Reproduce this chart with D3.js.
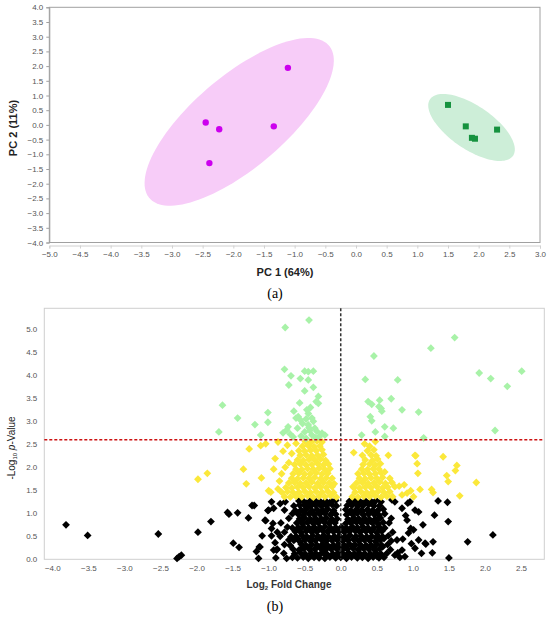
<!DOCTYPE html>
<html>
<head>
<meta charset="utf-8">
<script src="https://cdn.jsdelivr.net/npm/d3@7"></script>
<style>
  body { margin: 0; background: #fff; }
  svg { display: block; font-family: "Liberation Sans", Arial, sans-serif; }
  .tick text { fill: #555; font-size: 8px; }
</style>
</head>
<body>
<script>
// ---- panel (a): PCA scores ----
const pcaGroupA = [[-2.45, 0.08], [-2.23, -0.15], [-2.39, -1.30], [-1.34, -0.05], [-1.11, 1.94]];
const pcaGroupB = [[1.50, 0.68], [1.79, -0.05], [2.30, -0.16], [1.89, -0.44], [1.94, -0.47]];
const pcaXTicks = [-5, -4.5, -4, -3.5, -3, -2.5, -2, -1.5, -1, -0.5, 0, 0.5, 1, 1.5, 2, 2.5, 3];
const pcaYTicks = [-4, -3.5, -3, -2.5, -2, -1.5, -1, -0.5, 0, 0.5, 1, 1.5, 2, 2.5, 3, 3.5, 4];

// ---- panel (b): volcano (log2 FC, -log10 p) ----
const greenPoints = [
  [-1.69,2.77],[-1.64,3.35],[-1.43,3.07],[-1.19,2.93],[-1.11,2.70],[-1.01,3.19],[-1.01,2.98],
  [-0.77,5.04],[-0.44,5.20],[1.58,4.82],[1.25,4.59],[0.46,4.42],
  [-0.78,4.13],[-0.50,4.09],[-0.45,4.08],[-0.38,4.09],[-0.69,3.99],[-0.56,3.93],[-0.45,3.90],[-0.72,3.79],
  [0.34,3.91],[0.79,3.90],[1.92,4.05],[2.08,3.93],[2.31,3.76],[2.51,4.09],[2.14,2.80],[1.15,2.64],
  [-0.38,3.74],[-0.50,3.66],[-0.31,3.54],[-0.34,3.43],[-0.31,3.39],[-0.57,3.40],[-0.65,3.22],[-0.45,3.17],
  [-0.59,3.10],[-0.62,3.07],[-0.56,3.03],[-0.40,3.07],[-0.73,2.88],[-0.75,2.81],[-0.45,2.92],[-0.36,2.85],
  [-0.50,2.77],[-0.26,2.74],[-0.22,2.70],[-0.40,2.70],[-0.80,2.75],
  [-0.70,2.72],[-0.66,2.66],[-0.55,2.68],[-0.48,2.63],[-0.35,2.64],[-0.30,2.66],[-0.60,2.85],[-0.53,2.95],[-0.43,2.80],
  [-0.47,3.25],[-0.42,3.30],[-0.48,3.05],[-0.38,3.00],[-0.44,2.86],[-0.33,2.78],
  [0.54,3.46],[0.70,3.49],[0.38,3.43],[0.43,3.37],[0.56,3.28],[0.53,3.32],[0.85,3.25],[1.08,3.20],
  [0.41,3.10],[0.43,3.01],[0.61,2.88],[0.73,2.85],[0.48,2.77],[0.29,2.70],[0.61,2.67],[0.57,3.22]
];
const yellowPoints = [
  [-1.98,1.74],[-1.85,1.87],[-1.35,1.96],[-1.31,1.64],[-1.27,2.40],[-1.11,2.47],[-1.04,2.51],[-1.10,1.77],
  [-1.00,1.49],[-0.97,1.46],[-0.93,1.96],[-0.91,2.19],[-0.87,2.55],[-0.87,1.53],
  [-0.78,1.36],[-0.70,1.35],[-0.62,1.37],[-0.54,1.36],[-0.46,1.38],[-0.38,1.35],[-0.30,1.37],[-0.22,1.36],[-0.14,1.38],[-0.06,1.35],
  [-0.82,1.46],[-0.74,1.47],[-0.66,1.45],[-0.58,1.46],[-0.50,1.48],[-0.42,1.45],[-0.34,1.47],[-0.26,1.46],[-0.18,1.48],[-0.10,1.45],
  [-0.76,1.56],[-0.68,1.55],[-0.60,1.57],[-0.52,1.56],[-0.44,1.58],[-0.36,1.55],[-0.28,1.57],[-0.20,1.56],[-0.12,1.58],
  [-0.72,1.66],[-0.64,1.67],[-0.56,1.65],[-0.48,1.66],[-0.40,1.68],[-0.32,1.65],[-0.24,1.67],[-0.16,1.66],[-0.09,1.64],
  [-0.68,1.76],[-0.60,1.75],[-0.52,1.77],[-0.44,1.76],[-0.36,1.78],[-0.28,1.75],[-0.20,1.77],[-0.12,1.76],
  [-0.66,1.86],[-0.58,1.87],[-0.50,1.85],[-0.42,1.86],[-0.34,1.88],[-0.26,1.85],[-0.18,1.87],
  [-0.62,1.96],[-0.54,1.95],[-0.46,1.97],[-0.38,1.96],[-0.30,1.98],[-0.22,1.95],[-0.15,1.97],
  [-0.64,2.06],[-0.56,2.07],[-0.48,2.05],[-0.40,2.06],[-0.32,2.08],[-0.24,2.05],[-0.17,2.07],
  [-0.60,2.16],[-0.52,2.15],[-0.44,2.17],[-0.36,2.16],[-0.28,2.18],[-0.21,2.15],
  [-0.56,2.26],[-0.48,2.27],[-0.40,2.25],[-0.32,2.26],[-0.24,2.28],
  [-0.58,2.36],[-0.50,2.35],[-0.42,2.37],[-0.34,2.36],[-0.26,2.38],
  [-0.53,2.46],[-0.45,2.47],[-0.37,2.45],[-0.29,2.46],
  [-0.49,2.56],[-0.41,2.55],[-0.33,2.57],[-0.26,2.55],
  [-0.80,2.35],[-0.74,2.48],[-0.72,2.10],[-0.82,1.86],[-0.77,2.00],[-0.85,1.70],[-0.68,2.30],[-0.62,2.52],
  [0.16,1.36],[0.24,1.35],[0.32,1.37],[0.40,1.36],[0.48,1.38],[0.56,1.35],[0.64,1.37],[0.72,1.36],
  [0.20,1.46],[0.28,1.47],[0.36,1.45],[0.44,1.46],[0.52,1.48],[0.60,1.45],[0.68,1.47],
  [0.18,1.56],[0.26,1.55],[0.34,1.57],[0.42,1.56],[0.50,1.58],[0.58,1.55],[0.65,1.57],
  [0.22,1.66],[0.30,1.67],[0.38,1.65],[0.46,1.66],[0.54,1.68],[0.62,1.65],
  [0.26,1.76],[0.34,1.75],[0.42,1.77],[0.50,1.76],[0.58,1.78],
  [0.24,1.86],[0.32,1.87],[0.40,1.85],[0.48,1.86],[0.56,1.88],
  [0.29,1.96],[0.37,1.95],[0.45,1.97],[0.53,1.96],
  [0.31,2.06],[0.40,2.07],[0.48,2.05],[0.55,2.08],
  [0.34,2.16],[0.44,2.15],[0.51,2.18],
  [0.30,2.26],[0.42,2.27],[0.49,2.25],[0.37,2.36],[0.46,2.38],[0.40,2.46],
  [0.18,2.32],[0.33,2.51],[0.48,2.56],[0.66,2.26],[1.04,2.25],[1.07,1.87],[1.42,2.23],[1.61,2.04],
  [1.59,1.93],[1.47,1.82],[1.49,1.69],[1.88,1.67],[1.65,1.38],[1.26,1.52],[1.28,1.45],[1.10,1.52],
  [0.97,1.49],[1.01,1.36],[0.88,1.62],[0.81,1.59],[0.75,1.58],[0.68,1.76],[0.71,1.67],[0.61,1.90],
  [0.17,1.58],[1.03,2.26],[1.06,2.08],[0.92,1.44],[0.85,1.40]
];
const blackPoints = [
  [-3.81,0.75],[-3.51,0.52],[-2.53,0.55],[-1.98,0.59],[-2.27,0.02],[-2.24,0.06],[-2.21,0.09],[-1.80,0.82],
  [-1.57,1.02],[-1.55,0.98],[-1.43,1.01],[-1.28,0.90],[-1.23,1.17],[-1.20,1.17],[-1.49,0.35],[-1.41,0.26],
  [-1.17,0.17],[-1.13,0.27],[-1.14,0.02],[-1.09,0.51],[-1.04,0.84],[-1.01,1.06],[-0.96,1.25],[-0.96,0.51],
  [-0.93,0.20],[-0.93,1.11],[-0.96,0.67],[-0.88,0.59],[-0.89,0.20],[-0.84,1.21],[-0.77,1.25],
  [-1.00,1.07],[-1.05,0.85],[-0.94,0.78],[-1.12,0.27],[-0.91,0.36],
  [0.96,1.25],[1.08,1.03],[1.35,1.27],[1.48,1.24],[1.49,0.82],[1.30,0.96],[1.28,0.38],[1.18,0.33],
  [1.76,0.38],[2.11,0.53],[1.50,0.03],[1.08,0.42],[0.97,0.67],[1.01,0.64],[0.94,0.57],[0.92,0.85],
  [0.85,1.11],[0.75,1.25],[0.71,1.29],[0.89,0.06],[0.75,0.09],[0.85,0.20],[1.12,0.13],[1.03,0.24],
  [0.98,0.34],[0.90,0.95],[1.14,0.75],[0.86,0.44],[1.03,1.07],[0.93,1.22],[1.17,0.35],[1.27,0.14],
  [-0.90,0.03],[-0.75,0.02],[-0.67,0.04],[-0.60,0.03],[-0.52,0.05],[-0.45,0.02],[-0.37,0.04],
  [-0.30,0.03],[-0.22,0.02],[-0.15,0.05],[-0.07,0.03],[0.00,0.04],[0.08,0.02],[0.15,0.05],[0.23,0.03],
  [0.30,0.04],[0.38,0.02],[0.45,0.05],[0.53,0.03],[0.60,0.04],[0.82,0.04],
  [-0.79,0.13],[-0.64,0.12],[-0.56,0.14],[-0.49,0.11],[-0.41,0.13],[-0.34,0.12],
  [-0.26,0.14],[-0.19,0.11],[-0.11,0.12],[-0.04,0.13],[0.04,0.11],[0.11,0.14],[0.19,0.12],[0.26,0.13],
  [0.34,0.11],[0.41,0.12],[0.49,0.14],[0.56,0.11],[0.64,0.13],[0.79,0.14],
  [-0.88,0.22],[-0.66,0.22],[-0.58,0.20],[-0.51,0.23],[-0.43,0.21],[-0.36,0.22],
  [-0.28,0.24],[-0.21,0.21],[-0.13,0.22],[-0.06,0.23],[0.02,0.21],[0.09,0.22],[0.17,0.24],[0.24,0.21],
  [0.32,0.23],[0.39,0.22],[0.47,0.20],[0.54,0.23],[0.69,0.21],
  [-0.78,0.32],[-0.70,0.30],[-0.55,0.33],[-0.48,0.30],[-0.40,0.32],[-0.33,0.31],
  [-0.25,0.33],[-0.18,0.30],[-0.10,0.31],[-0.03,0.32],[0.05,0.30],[0.12,0.33],[0.20,0.31],[0.27,0.32],
  [0.35,0.30],[0.42,0.31],[0.50,0.33],[0.57,0.30],[0.65,0.32],
  [-0.72,0.42],[-0.65,0.41],[-0.57,0.39],[-0.50,0.42],[-0.42,0.40],[-0.35,0.41],
  [-0.27,0.43],[-0.20,0.40],[-0.12,0.41],[-0.05,0.42],[0.03,0.40],[0.10,0.41],[0.18,0.43],[0.25,0.40],
  [0.33,0.42],[0.40,0.41],[0.48,0.39],[0.55,0.42],[0.70,0.40],[0.78,0.42],
  [-0.84,0.50],[-0.69,0.49],[-0.62,0.50],[-0.54,0.52],[-0.47,0.49],[-0.39,0.51],[-0.32,0.50],
  [-0.24,0.52],[-0.17,0.49],[-0.09,0.50],[-0.02,0.51],[0.06,0.49],[0.13,0.52],[0.21,0.50],[0.28,0.51],
  [0.36,0.49],[0.43,0.50],[0.51,0.52],[0.58,0.49],[0.66,0.51],
  [-0.78,0.59],[-0.63,0.60],[-0.55,0.58],[-0.48,0.61],[-0.40,0.59],[-0.33,0.60],
  [-0.25,0.62],[-0.18,0.59],[-0.10,0.60],[-0.03,0.61],[0.05,0.59],[0.12,0.60],[0.20,0.62],[0.27,0.59],
  [0.35,0.61],[0.42,0.60],[0.50,0.58],[0.57,0.61],[0.72,0.59],
  [-0.74,0.70],[-0.67,0.68],[-0.59,0.69],[-0.52,0.71],[-0.44,0.68],[-0.37,0.70],[-0.29,0.69],
  [-0.22,0.71],[-0.14,0.68],[-0.07,0.69],[0.01,0.70],[0.08,0.68],[0.16,0.71],[0.23,0.69],[0.31,0.70],
  [0.38,0.68],[0.46,0.69],[0.53,0.71],[0.61,0.68],
  [-0.83,0.79],[-0.61,0.79],[-0.53,0.77],[-0.46,0.80],[-0.38,0.78],[-0.31,0.79],
  [-0.23,0.81],[-0.16,0.78],[-0.08,0.79],[0.07,0.78],[0.14,0.79],[0.22,0.81],[0.29,0.78],
  [0.37,0.80],[0.44,0.79],[0.52,0.77],[0.59,0.80],[0.67,0.79],
  [-0.72,0.89],[-0.57,0.88],[-0.50,0.90],[-0.42,0.87],[-0.35,0.89],[-0.27,0.88],
  [-0.20,0.90],[-0.12,0.87],[-0.05,0.88],[0.10,0.87],[0.18,0.90],[0.25,0.88],[0.33,0.89],
  [0.40,0.87],[0.48,0.88],[0.55,0.90],[0.70,0.89],
  [-0.67,0.99],[-0.59,0.98],[-0.52,0.96],[-0.44,0.99],[-0.37,0.97],[-0.29,0.98],
  [-0.22,1.00],[-0.14,0.97],[-0.07,0.98],[0.08,0.97],[0.16,0.98],[0.23,1.00],[0.31,0.97],
  [0.38,0.99],[0.46,0.98],[0.53,0.96],[0.61,0.99],
  [-0.78,1.07],[-0.63,1.06],[-0.55,1.07],[-0.48,1.09],[-0.40,1.06],[-0.33,1.08],[-0.25,1.07],
  [-0.18,1.09],[-0.10,1.06],[0.07,1.08],[0.14,1.06],[0.22,1.09],[0.29,1.07],[0.37,1.08],[0.44,1.06],
  [0.52,1.07],[0.59,1.09],
  [-0.65,1.16],[-0.57,1.18],[-0.50,1.17],[-0.42,1.15],[-0.35,1.18],[-0.27,1.16],[-0.20,1.17],
  [-0.12,1.19],[-0.06,1.16],[0.09,1.17],[0.16,1.18],[0.24,1.16],[0.31,1.17],[0.39,1.19],[0.46,1.16],
  [0.54,1.17],
  [-0.58,1.27],[-0.51,1.25],[-0.43,1.26],[-0.36,1.28],[-0.28,1.25],[-0.21,1.27],[-0.13,1.26],
  [-0.07,1.28],[0.12,1.26],[0.19,1.28],[0.27,1.25],[0.34,1.27],[0.42,1.26],[0.49,1.28],[0.56,1.25],
  [-0.50,0.08],[-0.40,0.08],[-0.31,0.07],[-0.20,0.08],[-0.11,0.09],[0.00,0.08],[0.10,0.07],[0.20,0.08],
  [0.31,0.09],[0.40,0.08],[0.50,0.07],
  [-0.53,0.26],[-0.44,0.27],[-0.33,0.26],[-0.24,0.28],[-0.14,0.26],[-0.03,0.27],[0.07,0.26],[0.16,0.28],
  [0.28,0.26],[0.37,0.27],[0.46,0.26],[0.58,0.27],
  [-0.60,0.45],[-0.50,0.46],[-0.41,0.45],[-0.30,0.47],[-0.21,0.45],[-0.10,0.46],[0.00,0.45],[0.09,0.47],
  [0.19,0.45],[0.30,0.46],[0.39,0.45],[0.49,0.47],[0.60,0.45],
  [-0.57,0.64],[-0.46,0.65],[-0.36,0.64],[-0.27,0.66],[-0.16,0.64],[-0.06,0.65],[0.04,0.64],[0.14,0.66],
  [0.24,0.64],[0.33,0.65],[0.44,0.64],[0.54,0.66],
  [-0.54,0.83],[-0.44,0.84],[-0.33,0.83],[-0.24,0.85],[-0.14,0.83],[0.12,0.84],[0.20,0.83],[0.31,0.85],
  [0.41,0.83],[0.50,0.84],
  [-0.50,1.02],[-0.40,1.03],[-0.31,1.02],[-0.21,1.04],[-0.11,1.02],[0.12,1.03],[0.20,1.02],[0.30,1.04],
  [0.41,1.02],[0.50,1.03],
  [-0.47,1.22],[-0.39,1.21],[-0.31,1.22],[-0.23,1.21],[-0.16,1.22],[0.14,1.21],[0.22,1.22],[0.29,1.21],
  [0.37,1.22],[0.45,1.21]
];
const pThreshold = 2.6;
const volXTicks = [-4, -3.5, -3, -2.5, -2, -1.5, -1, -0.5, 0, 0.5, 1, 1.5, 2, 2.5];
const volYTicks = [0, 0.5, 1, 1.5, 2, 2.5, 3, 3.5, 4, 4.5, 5];

const W = 550, H = 619;
const fmt = d3.format(".1f");

const svg = d3.select("body").append("svg")
    .attr("width", W)
    .attr("height", H);

// ================= panel (a) =================
const ax = d3.scaleLinear().domain([-5, 3]).range([49.3, 540]);
const ay = d3.scaleLinear().domain([-4, 4]).range([242.5, 7.3]);

const ga = svg.append("g");

// confidence ellipse (95%, chi2 2 df) from the group's covariance
function ellipsePts(pts) {
    const n = pts.length;
    const mx = d3.mean(pts, d => d[0]), my = d3.mean(pts, d => d[1]);
    let sxx = 0, syy = 0, sxy = 0;
    pts.forEach(function (p) {
        sxx += (p[0] - mx) * (p[0] - mx);
        syy += (p[1] - my) * (p[1] - my);
        sxy += (p[0] - mx) * (p[1] - my);
    });
    sxx /= n - 1; syy /= n - 1; sxy /= n - 1;
    const tr = sxx + syy, det = sxx * syy - sxy * sxy;
    const disc = Math.sqrt(tr * tr / 4 - det);
    const l1 = tr / 2 + disc, l2 = tr / 2 - disc;
    const th = Math.atan2(l1 - sxx, sxy);
    const k = Math.sqrt(5.991);
    const a = k * Math.sqrt(l1), b = k * Math.sqrt(Math.max(l2, 0));
    const out = [];
    for (let i = 0; i < 120; i++) {
        const t = i / 120 * 2 * Math.PI;
        const ex = a * Math.cos(t), ey = b * Math.sin(t);
        out.push([mx + ex * Math.cos(th) - ey * Math.sin(th),
                  my + ex * Math.sin(th) + ey * Math.cos(th)]);
    }
    return out;
}

const ellLine = d3.line()
    .x(d => ax(d[0]))
    .y(d => ay(d[1]))
    .curve(d3.curveLinearClosed);

ga.append("path")
    .attr("d", ellLine(ellipsePts(pcaGroupA)))
    .attr("fill", "#f7ccf8");
ga.append("path")
    .attr("d", ellLine(ellipsePts(pcaGroupB)))
    .attr("fill", "#cdeed8");

// frame
ga.append("rect")
    .attr("x", ax(-5)).attr("y", ay(4))
    .attr("width", ax(3) - ax(-5)).attr("height", ay(-4) - ay(4))
    .attr("fill", "none").attr("stroke", "#a0a0a0").attr("stroke-width", 1);

ga.append("g")
    .attr("transform", "translate(" + ax(-5) + ",0)")
    .call(d3.axisLeft(ay).tickValues(pcaYTicks).tickFormat(fmt).tickSize(3).tickPadding(3))
    .call(g => g.select(".domain").attr("stroke", "#a0a0a0"))
    .call(g => g.selectAll(".tick line").attr("stroke", "#a0a0a0"));

ga.append("g")
    .attr("transform", "translate(0," + (ay(-4) + 3) + ")")
    .call(d3.axisBottom(ax).tickValues(pcaXTicks).tickFormat(fmt).tickSize(3).tickPadding(3))
    .call(g => g.select(".domain").attr("stroke", "#d0d0d0"))
    .call(g => g.selectAll(".tick line").attr("stroke", "#d0d0d0"));

ga.selectAll("circle.grpA")
    .data(pcaGroupA)
    .enter().append("circle")
    .attr("class", "grpA")
    .attr("cx", d => ax(d[0]))
    .attr("cy", d => ay(d[1]))
    .attr("r", 3.2)
    .attr("fill", "#cc00ee");

ga.selectAll("rect.grpB")
    .data(pcaGroupB)
    .enter().append("rect")
    .attr("class", "grpB")
    .attr("x", d => ax(d[0]) - 3)
    .attr("y", d => ay(d[1]) - 3)
    .attr("width", 6).attr("height", 6)
    .attr("fill", "#16923f");

ga.append("text")
    .attr("x", 285).attr("y", 276)
    .attr("text-anchor", "middle")
    .attr("font-size", 11).attr("font-weight", "bold").attr("fill", "#222")
    .text("PC 1 (64%)");

ga.append("text")
    .attr("transform", "translate(17,128) rotate(-90)")
    .attr("text-anchor", "middle")
    .attr("font-size", 11).attr("font-weight", "bold").attr("fill", "#222")
    .text("PC 2 (11%)");

ga.append("text")
    .attr("x", 275).attr("y", 298)
    .attr("text-anchor", "middle")
    .attr("font-family", "'Liberation Serif', 'DejaVu Serif', serif")
    .attr("font-size", 14).attr("fill", "#000")
    .text("(a)");

// ================= panel (b) =================
const bx = d3.scaleLinear().domain([-4.111, 2.823]).range([44.3, 544.3]);
const by = d3.scaleLinear().domain([0, 5.457]).range([559.3, 308.3]);

const gb = svg.append("g");

gb.append("rect")
    .attr("x", bx.range()[0]).attr("y", by.range()[1])
    .attr("width", bx.range()[1] - bx.range()[0])
    .attr("height", by.range()[0] - by.range()[1])
    .attr("fill", "none").attr("stroke", "#cfcfcf").attr("stroke-width", 1);

gb.append("g")
    .attr("transform", "translate(" + bx.range()[0] + ",0)")
    .call(d3.axisLeft(by).tickValues(volYTicks).tickFormat(fmt).tickSize(0).tickPadding(7))
    .call(g => g.select(".domain").remove());

gb.append("g")
    .attr("transform", "translate(0," + by.range()[0] + ")")
    .call(d3.axisBottom(bx).tickValues(volXTicks).tickFormat(fmt).tickSize(0).tickPadding(6))
    .call(g => g.select(".domain").remove());

const diamond = "M0,-3.9L3.9,0L0,3.9L-3.9,0Z";

function drawPts(data, color) {
    gb.append("g").selectAll("path")
        .data(data)
        .enter().append("path")
        .attr("d", diamond)
        .attr("transform", d => "translate(" + bx(d[0]) + "," + by(d[1]) + ")")
        .attr("fill", color);
}
drawPts(blackPoints, "#000");
drawPts(yellowPoints, "#fbe83a");
drawPts(greenPoints, "#a8f2a8");

// threshold lines
gb.append("line")
    .attr("x1", bx(0)).attr("x2", bx(0))
    .attr("y1", by.range()[1]).attr("y2", by.range()[0])
    .attr("stroke", "#333").attr("stroke-width", 1.5).attr("stroke-dasharray", "3,2");

gb.append("line")
    .attr("x1", bx.range()[0]).attr("x2", bx.range()[1])
    .attr("y1", by(pThreshold)).attr("y2", by(pThreshold))
    .attr("stroke", "#cc1111").attr("stroke-width", 1.5).attr("stroke-dasharray", "3,2");

const yl = gb.append("text")
    .attr("transform", "translate(15,448) rotate(-90)")
    .attr("text-anchor", "middle")
    .attr("font-size", 10).attr("fill", "#222");
yl.append("tspan").text("-Log");
yl.append("tspan").attr("font-size", 6).attr("dy", 2).text("10");
yl.append("tspan").attr("dy", -2).text(" ");
yl.append("tspan").attr("font-style", "italic").text("p");
yl.append("tspan").text("-Value");

const xl = gb.append("text")
    .attr("x", 289).attr("y", 588)
    .attr("text-anchor", "middle")
    .attr("font-size", 10).attr("font-weight", "bold").attr("fill", "#333");
xl.append("tspan").text("Log");
xl.append("tspan").attr("font-size", 6).attr("dy", 2).text("2");
xl.append("tspan").attr("dy", -2).text(" Fold Change");

gb.append("text")
    .attr("x", 275).attr("y", 611)
    .attr("text-anchor", "middle")
    .attr("font-family", "'Liberation Serif', 'DejaVu Serif', serif")
    .attr("font-size", 14).attr("fill", "#000")
    .text("(b)");
</script>
</body>
</html>
